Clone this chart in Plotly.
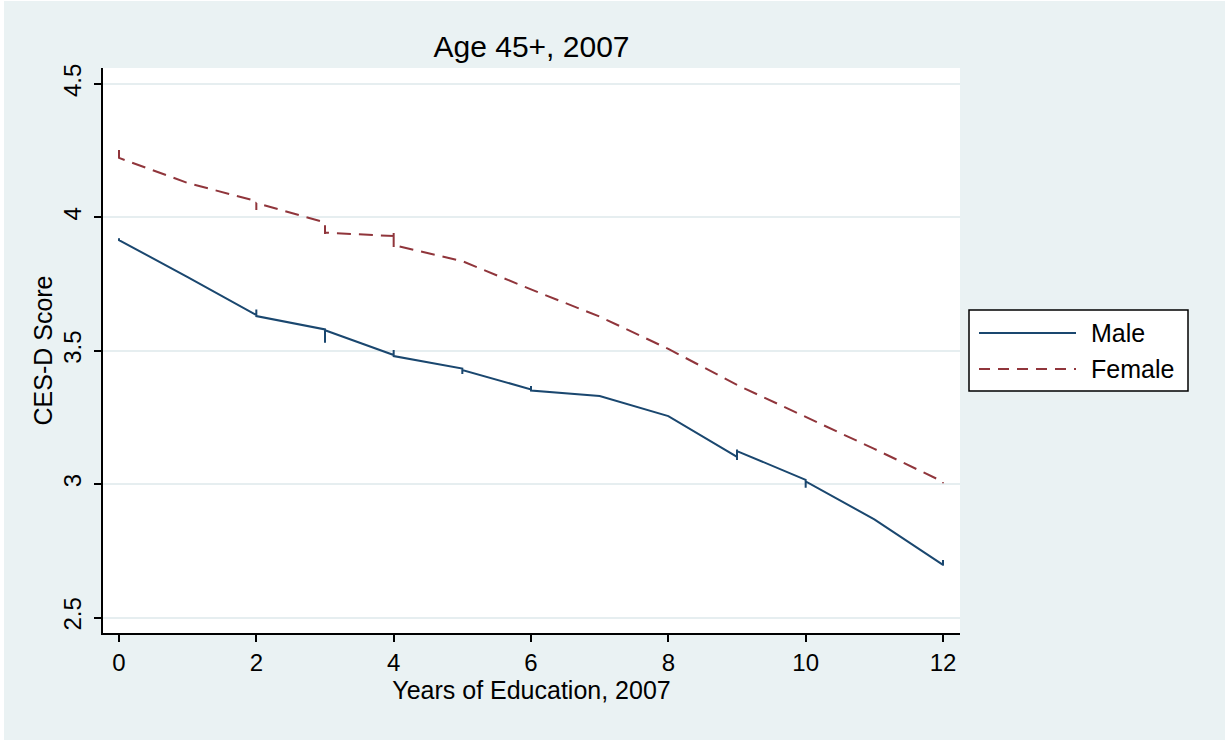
import plotly.graph_objects as go

# ---- data ----
education_male = [0, 0, 1, 2, 2, 2, 3, 3, 3, 4, 4, 4, 5, 5, 5, 6, 6, 6, 7, 8,
                  9, 9, 9, 9, 10, 10, 10, 11, 12, 12, 12]
cesd_male = [3.922, 3.915, 3.776, 3.634, 3.655, 3.630, 3.580, 3.530, 3.577,
             3.484, 3.503, 3.480, 3.433, 3.413, 3.428, 3.355, 3.368, 3.351,
             3.330, 3.255, 3.102, 3.090, 3.130, 3.124, 3.016, 2.986, 3.010,
             2.868, 2.697, 2.716, 2.694]

education_female = [0, 0, 1, 2, 2, 2, 3, 3, 3, 4, 4, 4, 4, 5, 6, 7, 8, 9,
                    10, 11, 12, 12]
cesd_female = [4.253, 4.223, 4.129, 4.061, 4.028, 4.054, 3.981, 3.938, 3.943,
               3.930, 3.953, 3.889, 3.896, 3.836, 3.730, 3.628, 3.507, 3.372,
               3.253, 3.132, 3.009, 3.003]

x_ticks = [0, 2, 4, 6, 8, 10, 12]
y_ticks = [2.5, 3, 3.5, 4, 4.5]
y_tick_labels = ["2.5", "3", "3.5", "4", "4.5"]
series_names = ["Male", "Female"]

MALE_COLOR = "#1A476F"
FEMALE_COLOR = "#90353B"
BG = "#EAF2F3"
FONT = "Liberation Sans, Arial, Helvetica, sans-serif"

fig = go.Figure()
fig.add_trace(go.Scatter(x=education_male, y=cesd_male, mode="lines",
                         name=series_names[0], showlegend=False,
                         line=dict(color=MALE_COLOR, width=2)))
fig.add_trace(go.Scatter(x=education_female, y=cesd_female, mode="lines",
                         name=series_names[1], showlegend=False,
                         line=dict(color=FEMALE_COLOR, width=2, dash="14px,8px")))

# plot area geometry (pixels) used for legend placement in paper coords
L, R, T, B = 103, 960, 68, 633
def px(xp):
    return (xp - L) / (R - L)
def py(yp):
    return (B - yp) / (B - T)

shapes = [
    # thin white edge of the outer frame
    dict(type="rect", xref="paper", yref="paper", x0=px(-2), x1=px(4),
         y0=py(742), y1=py(-2), fillcolor="white", line=dict(width=0), layer="below"),
    dict(type="rect", xref="paper", yref="paper", x0=px(-2), x1=px(1227),
         y0=py(1), y1=py(-2), fillcolor="white", line=dict(width=0), layer="below"),
    # legend box
    dict(type="rect", xref="paper", yref="paper", x0=px(969), x1=px(1188),
         y0=py(391), y1=py(310), fillcolor="white", line=dict(color="black", width=1.5)),
    dict(type="line", xref="paper", yref="paper", x0=px(979), x1=px(1076),
         y0=py(333), y1=py(333), line=dict(color=MALE_COLOR, width=2)),
    dict(type="line", xref="paper", yref="paper", x0=px(979), x1=px(1076),
         y0=py(369), y1=py(369), line=dict(color=FEMALE_COLOR, width=2, dash="11px,8px")),
]
annotations = [
    dict(text=series_names[0], xref="paper", yref="paper", x=px(1089), y=py(333),
         xanchor="left", yanchor="middle", showarrow=False,
         font=dict(family=FONT, size=25, color="black")),
    dict(text=series_names[1], xref="paper", yref="paper", x=px(1089), y=py(369),
         xanchor="left", yanchor="middle", showarrow=False,
         font=dict(family=FONT, size=25, color="black")),
]

fig.update_layout(
    width=1225, height=740, autosize=False,
    margin=dict(l=L, r=1225 - R, t=T, b=740 - B, pad=0),
    paper_bgcolor=BG, plot_bgcolor="white",
    font=dict(family=FONT, color="black"),
    title=dict(text="Age 45+, 2007", x=0.5, xref="paper", xanchor="center",
               y=1 - 46 / 740, yref="container", yanchor="middle",
               font=dict(family=FONT, size=30, color="black")),
    showlegend=False,
    shapes=shapes,
    annotations=annotations,
)

fig.update_xaxes(
    range=[-0.233, 12.2476], tickmode="array", tickvals=x_ticks,
    ticktext=[str(v) for v in x_ticks],
    showgrid=False, zeroline=False,
    showline=True, linecolor="black", linewidth=2,
    ticks="outside", ticklen=7, tickwidth=1.5, tickcolor="black",
    tickfont=dict(family=FONT, size=24, color="black"),
    title=dict(text="Years of Education, 2007", standoff=1,
               font=dict(family=FONT, size=25, color="black")),
)
fig.update_yaxes(
    range=[2.4419, 4.560], tickmode="array", tickvals=y_ticks,
    ticktext=y_tick_labels, tickangle=-90,
    showgrid=True, gridcolor="#E6EEF0", gridwidth=2, zeroline=False,
    showline=True, linecolor="black", linewidth=2,
    ticks="outside", ticklen=7, tickwidth=1.5, tickcolor="black",
    tickfont=dict(family=FONT, size=24, color="black"),
    ticklabelstandoff=3,
    title=dict(text="CES-D Score", standoff=0,
               font=dict(family=FONT, size=25, color="black")),
)

fig.write_html("out.html")
